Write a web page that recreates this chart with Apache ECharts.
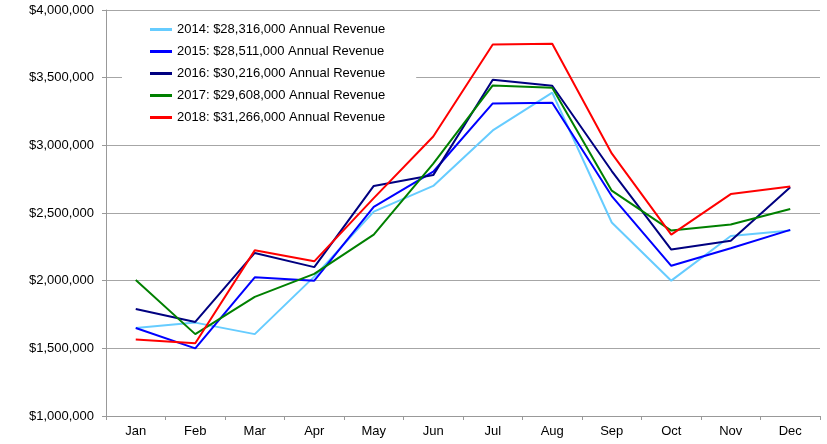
<!DOCTYPE html>
<html lang="en">
<head>
    <meta charset="UTF-8">
    <title>Annual Revenue</title>
    <style>
        html, body { margin: 0; padding: 0; background: #fff; }
        #chart { width: 827px; height: 444px; }
    </style>
</head>
<body>
<div id="chart"></div>
<script src="https://cdn.jsdelivr.net/npm/echarts@6/dist/echarts.min.js"></script>
<script type="text/javascript">
    // months on the x axis
    var months = ['Jan', 'Feb', 'Mar', 'Apr', 'May', 'Jun', 'Jul', 'Aug', 'Sep', 'Oct', 'Nov', 'Dec'];

    // legend names
    var seriesNames = [
        '2014: $28,316,000 Annual Revenue',
        '2015: $28,511,000 Annual Revenue',
        '2016: $30,216,000 Annual Revenue',
        '2017: $29,608,000 Annual Revenue',
        '2018: $31,266,000 Annual Revenue'
    ];

    // monthly revenue
    var rev2014 = [1650000, 1690000, 1605000, 2030000, 2510000, 2700000, 3110000, 3390000, 2430000, 2000000, 2330000, 2370000];
    var rev2015 = [1650000, 1500000, 2025000, 2000000, 2545000, 2805000, 3310000, 3315000, 2625000, 2110000, 2240000, 2375000];
    var rev2016 = [1790000, 1695000, 2205000, 2100000, 2700000, 2780000, 3485000, 3440000, 2810000, 2230000, 2295000, 2690000];
    var rev2017 = [2005000, 1605000, 1880000, 2050000, 2340000, 2865000, 3443000, 3425000, 2665000, 2370000, 2415000, 2530000];
    var rev2018 = [1565000, 1537000, 2224000, 2143000, 2610000, 3065000, 3745000, 3750000, 2940000, 2340000, 2640000, 2695000];

    var colors = ['#66ccff', '#0000ff', '#000080', '#008000', '#ff0000'];
    var allData = [rev2014, rev2015, rev2016, rev2017, rev2018];

    var myChart = echarts.init(document.getElementById('chart'));

    var option = {
        backgroundColor: '#fff',
        animation: false,
        color: colors,
        textStyle: { fontFamily: '"Liberation Sans", Arial, sans-serif' },
        grid: { left: 106, right: 7, top: 10, bottom: 28, containLabel: false },
        legend: {
            orient: 'vertical',
            left: 122,
            top: 14,
            padding: [8, 31, 8, 28],
            backgroundColor: '#fff',
            icon: 'rect',
            itemWidth: 22,
            itemHeight: 3,
            itemGap: 7,
            textStyle: { fontSize: 13, color: '#000', lineHeight: 15 },
            data: seriesNames
        },
        xAxis: {
            type: 'category',
            data: months,
            boundaryGap: true,
            axisLine: { lineStyle: { color: '#999', width: 1 } },
            axisTick: { show: true, interval: 0, length: 4, lineStyle: { color: '#999' } },
            axisLabel: { color: '#000', fontSize: 13, margin: 9 },
            splitLine: { show: false }
        },
        yAxis: {
            type: 'value',
            min: 1000000,
            max: 4000000,
            interval: 500000,
            axisLine: { show: true, lineStyle: { color: '#999', width: 1 } },
            axisTick: { show: true, length: 4, lineStyle: { color: '#999' } },
            axisLabel: {
                color: '#000',
                fontSize: 13,
                margin: 12,
                formatter: function (v) { return '$' + v.toLocaleString('en-US'); }
            },
            splitLine: { show: true, lineStyle: { color: '#a6a6a6', width: 1 } }
        },
        series: allData.map(function (d, i) {
            return {
                name: seriesNames[i],
                type: 'line',
                data: d,
                symbol: 'none',
                lineStyle: { width: 2, color: colors[i] },
                itemStyle: { color: colors[i] },
                z: 2 + i
            };
        })
    };

    myChart.setOption(option);
</script>
</body>
</html>
